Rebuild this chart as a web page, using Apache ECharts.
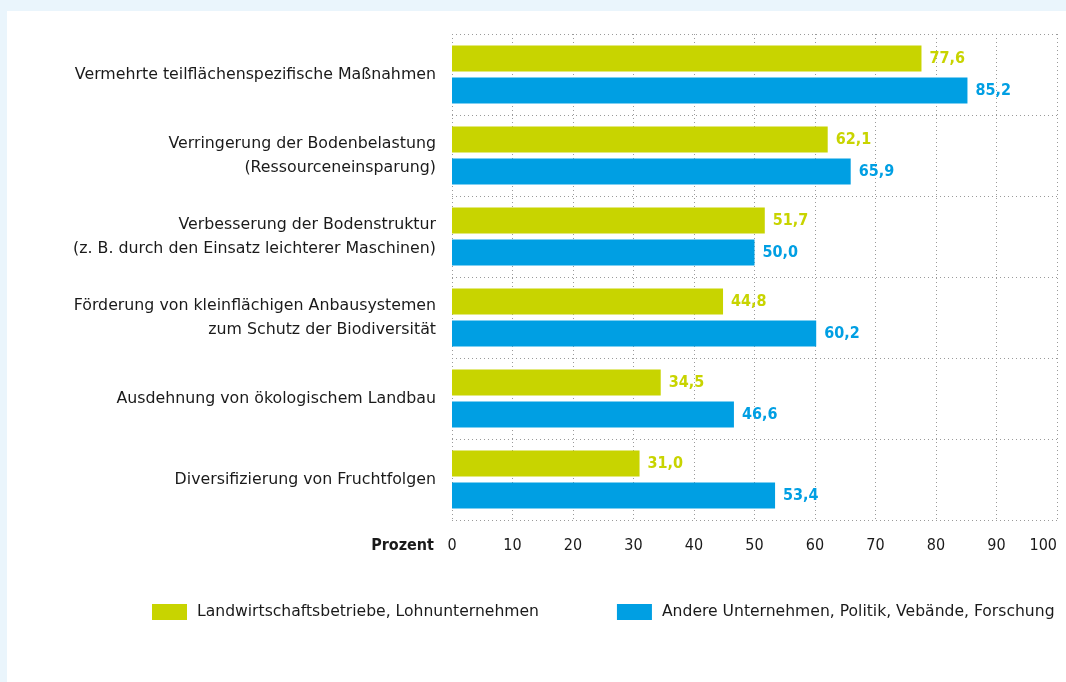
<!DOCTYPE html>
<html>
<head>
<meta charset="utf-8">
<script src="https://cdn.jsdelivr.net/npm/echarts@6/dist/echarts.min.js"></script>
<style>
html,body{margin:0;padding:0;background:#eaf5fc;overflow:hidden;width:1066px;height:682px;}
#panel{position:absolute;left:7px;top:11px;width:1059px;height:671px;background:#fff;}
#chart{position:absolute;left:0;top:0;width:1066px;height:682px;}
</style>
</head>
<body>
<div id="panel"></div>
<div id="chart"></div>
<script>
const categories = [
  "Vermehrte teilflächenspezifische Maßnahmen",
  "Verringerung der Bodenbelastung\n(Ressourceneinsparung)",
  "Verbesserung der Bodenstruktur\n(z. B. durch den Einsatz leichterer Maschinen)",
  "Förderung von kleinflächigen Anbausystemen\nzum Schutz der Biodiversität",
  "Ausdehnung von ökologischem Landbau",
  "Diversifizierung von Fruchtfolgen"
];
const seriesNames = ["Landwirtschaftsbetriebe, Lohnunternehmen", "Andere Unternehmen, Politik, Vebände, Forschung"];
const farmValues = [77.6, 62.1, 51.7, 44.8, 34.5, 31.0];
const otherValues = [85.2, 65.9, 50.0, 60.2, 46.6, 53.4];
const xTicks = [0, 10, 20, 30, 40, 50, 60, 70, 80, 90, 100];

const FONT = "DejaVu Sans";
const FONT_C = "DejaVu Sans Condensed";
const GREEN = "#c8d400";
const BLUE = "#009fe3";
const TXT = "#1a1a1a";
const fmt = v => v.toFixed(1).replace('.', ',');

const chart = echarts.init(document.getElementById('chart'), null, {renderer: 'canvas', width: 1066, height: 682});
chart.setOption({
  backgroundColor: 'transparent',
  textStyle: {fontFamily: FONT},
  animation: false,
  grid: {left: 452, right: 9, top: 34, bottom: 162, containLabel: false},
  legend: {
    left: 152, top: 604, padding: 0,
    itemWidth: 35, itemHeight: 16, itemGap: 78,
    icon: 'rect',
    textStyle: {fontFamily: FONT, fontSize: 15.6, color: TXT, padding: [0,0,0,5]},
    data: seriesNames
  },
  xAxis: {
    type: 'value', min: xTicks[0], max: xTicks[xTicks.length-1], interval: 10,
    name: 'Prozent', nameLocation: 'start', nameGap: 18,
    nameTextStyle: {fontFamily: FONT_C, fontSize: 16, fontWeight: 'bold', color: TXT, verticalAlign: 'top', padding: [18,0,0,0]},
    axisLine: {show: false}, axisTick: {show: false},
    axisLabel: {margin: 18, fontFamily: FONT_C, fontSize: 16, color: TXT, alignMaxLabel: 'right'},
    splitLine: {show: true, lineStyle: {color: '#9a9a9a', type: [1, 3], width: 1}}
  },
  yAxis: {
    type: 'category', inverse: true, data: categories,
    axisLine: {show: false}, axisTick: {show: false},
    axisLabel: {margin: 16, fontFamily: FONT, fontSize: 15.8, color: TXT, lineHeight: 24, align: 'right', padding: [3,0,0,0]},
    splitLine: {show: true, lineStyle: {color: '#9a9a9a', type: [1, 3], width: 1}}
  },
  series: [
    {
      name: seriesNames[0], type: 'bar', data: farmValues,
      itemStyle: {color: GREEN}, barWidth: 26, barGap: '23%',
      label: {show: true, position: 'right', distance: 8, formatter: p => fmt(p.value),
        fontFamily: FONT_C, fontSize: 16, fontWeight: 'bold', color: GREEN}
    },
    {
      name: seriesNames[1], type: 'bar', data: otherValues,
      itemStyle: {color: BLUE}, barWidth: 26, barGap: '23%',
      label: {show: true, position: 'right', distance: 8, formatter: p => fmt(p.value),
        fontFamily: FONT_C, fontSize: 16, fontWeight: 'bold', color: BLUE}
    }
  ]
});
</script>
</body>
</html>
